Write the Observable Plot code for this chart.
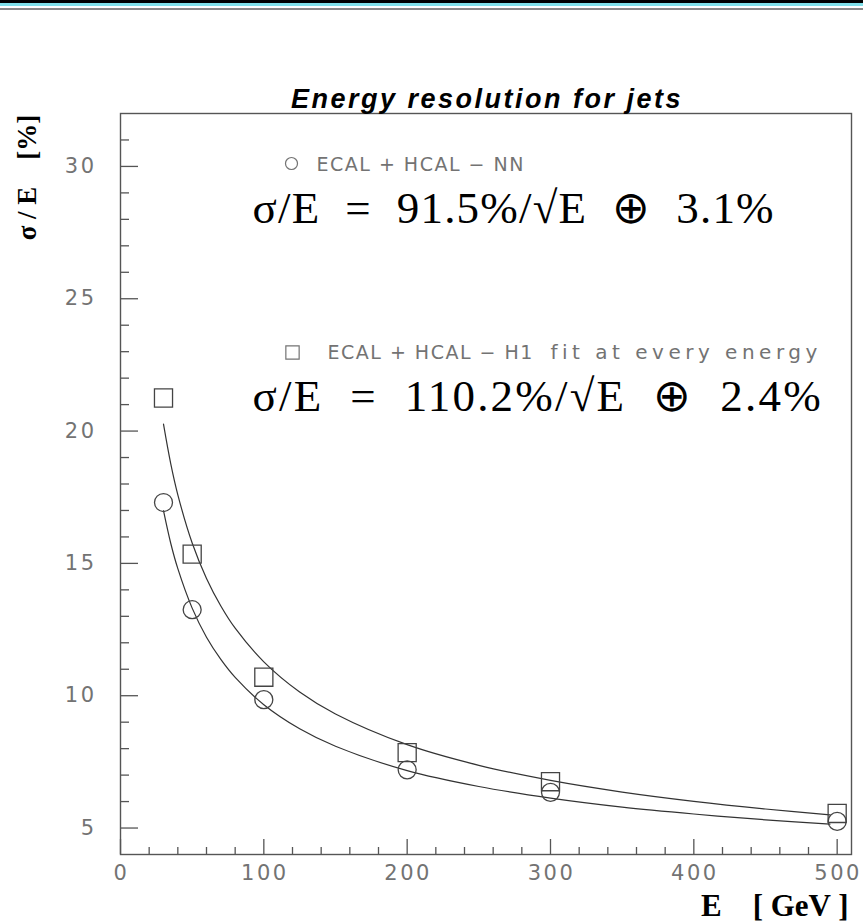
<!DOCTYPE html>
<html><head><meta charset="utf-8">
<script src="https://cdn.jsdelivr.net/npm/d3@7"></script>
<script src="https://cdn.jsdelivr.net/npm/@observablehq/plot@0.6"></script>
<style>
html,body{margin:0;padding:0;background:#fff;}
#wrap{position:relative;width:863px;height:923px;overflow:hidden;}
.bar{position:absolute;left:0;width:863px;}
#chart{position:absolute;left:0;top:0;}
svg text{white-space:pre;}
g[aria-label="y-axis tick label"] text, g[aria-label="x-axis tick label"] text{letter-spacing:2.5px;}
</style></head><body>
<div id="wrap">
<div id="chart"></div>
<div class="bar" style="top:0px;height:3px;background:#000"></div>
<div class="bar" style="top:3px;height:3px;background:#7fe0ea"></div>
<div class="bar" style="top:8px;height:1.5px;background:#888"></div>
</div>
<script>
// Measured points
const energies = [30, 50, 100, 200, 300, 500];
const resNN = [17.3, 13.25, 9.85, 7.2, 6.35, 5.25];
const resH1 = [21.25, 15.35, 10.7, 7.85, 6.75, 5.55];
// Fitted curves
const fitE  = [30, 35, 40, 50, 60, 70, 80, 100, 125, 150, 200, 250, 300, 350, 400, 450, 495];
const fitNN = [16.99, 15.77, 14.80, 13.31, 12.21, 11.37, 10.69, 9.66, 8.75, 8.09, 7.17, 6.57, 6.13, 5.79, 5.53, 5.31, 5.15];
const fitH1 = [20.26, 18.78, 17.59, 15.77, 14.43, 13.39, 12.55, 11.28, 10.14, 9.31, 8.15, 7.37, 6.80, 6.36, 6.01, 5.72, 5.50];
// Ticks
const yMajor = [5, 10, 15, 20, 25, 30];
const yMinor = d3.range(5, 32).filter(v => v % 5 !== 0);
const xMajor = [0, 100, 200, 300, 400, 500];
const xMinor = d3.range(20, 510, 20).filter(v => v % 100 !== 0);
// Texts
const title = "Energy resolution for jets";
const yLabel = "σ / E    [%]";
const xLabel = "E    [ GeV ]";
const legendNN = "ECAL + HCAL − NN";
const legendH1a = "ECAL + HCAL − H1";
const legendH1b = "fit at every energy";
const formulaNN = "σ/E  =  91.5%/√E  ⊕  3.1%";
const formulaH1 = "σ/E  =  110.2%/√E  ⊕  2.4%";

const pts = energies.map((e, i) => ({e, nn: resNN[i], h1: resH1[i]}));
const fit = fitE.map((e, i) => ({e, nn: fitNN[i], h1: fitH1[i]}));

const W = 863, H = 923, mL = 120, mR = 12, mT = 113, mB = 69;
const fw = W - mL - mR, fh = H - mT - mB;
const thin = "DejaVu Sans";
const serif = "Liberation Serif, Times New Roman, serif";
const gray = "#737373";
const tl = {frameAnchor: "top-left", textAnchor: "start", lineAnchor: "middle", text: d => d};

const plot = Plot.plot({
  width: W, height: H,
  marginLeft: mL, marginRight: mR, marginTop: mT, marginBottom: mB,
  style: {background: "transparent", color: gray, fontFamily: thin},
  x: {domain: [0, 510]},
  y: {domain: [4, 32]},
  marks: [
    Plot.frame({stroke: "#555", strokeWidth: 1.4}),
    Plot.tickY(yMajor, {y: d => d, insetRight: fw - 18, stroke: "#555", strokeWidth: 1.3}),
    Plot.tickY(yMinor, {y: d => d, insetRight: fw - 9, stroke: "#555", strokeWidth: 1.3}),
    Plot.tickX(xMajor, {x: d => d, insetTop: fh - 15, stroke: "#555", strokeWidth: 1.3}),
    Plot.tickX(xMinor, {x: d => d, insetTop: fh - 7, stroke: "#555", strokeWidth: 1.3}),
    Plot.axisY({ticks: yMajor, tickSize: 0, tickPadding: 24, fontSize: 21, fill: gray, label: null}),
    Plot.axisX({ticks: xMajor, tickSize: 0, tickPadding: 11, dx: 1, fontSize: 21, fill: gray, label: null}),
    Plot.line(fit, {x: "e", y: "nn", curve: "catmull-rom", stroke: "#333", strokeWidth: 1.2}),
    Plot.line(fit, {x: "e", y: "h1", curve: "catmull-rom", stroke: "#333", strokeWidth: 1.2}),
    Plot.dot(pts, {x: "e", y: "nn", symbol: "circle", r: 9, stroke: "#444", fill: "none", strokeWidth: 1.3}),
    Plot.dot(pts, {x: "e", y: "h1", symbol: "square", r: 10.2, stroke: "#444", fill: "none", strokeWidth: 1.3}),
    // title
    Plot.text([title], {frameAnchor: "top", lineAnchor: "middle", textAnchor: "middle", dx: 1, dy: -14, text: d => d,
      fontFamily: "Liberation Sans, Arial, sans-serif",
      fontWeight: "bold", fontStyle: "italic", fontSize: 27, fill: "#000"}),
    // axis labels
    Plot.text([yLabel], {frameAnchor: "top-left", textAnchor: "middle", lineAnchor: "middle", dx: -93, dy: 64, rotate: -90,
      text: d => d, fontFamily: serif, fontWeight: "bold", fontSize: 27, fill: "#000"}),
    Plot.text([xLabel], {frameAnchor: "bottom-right", textAnchor: "end", lineAnchor: "middle", dx: -3, dy: 52,
      text: d => d, fontFamily: serif, fontWeight: "bold", fontSize: 31, fill: "#000"}),
    // legend 1
    Plot.dot([0], {frameAnchor: "top-left", dx: 171, dy: 50, symbol: "circle", r: 6, stroke: gray, fill: "none", strokeWidth: 1.2}),
    Plot.text([legendNN], {...tl, dx: 196, dy: 51, fontFamily: thin, fontSize: 19, fill: gray}),
    Plot.text([formulaNN], {...tl, dx: 132, dy: 95, fontFamily: serif, fontSize: 45, fill: "#000"}),
    // legend 2
    Plot.dot([0], {frameAnchor: "top-left", dx: 172, dy: 239, symbol: "square", r: 7.5, stroke: gray, fill: "none", strokeWidth: 1.2}),
    Plot.text([legendH1a], {...tl, dx: 207, dy: 239, fontFamily: thin, fontSize: 19, fill: gray}),
    Plot.text([legendH1b], {...tl, dx: 430, dy: 239, fontFamily: thin, fontSize: 20, fill: gray}),
    Plot.text([formulaH1], {...tl, dx: 132, dy: 283, fontFamily: serif, fontSize: 45, fill: "#000"})
  ]
});

// letter spacing to mimic the wide plotting font
const spacing = new Map([
  [title, "2.5px"], [legendNN, "1.5px"], [legendH1a, "1.5px"], [legendH1b, "4.5px"],
  [formulaNN, "1.2px"], [formulaH1, "2.2px"]
]);
d3.select(plot).selectAll("text").each(function () {
  const s = spacing.get(this.textContent);
  if (s) this.style.letterSpacing = s;
});
document.getElementById("chart").appendChild(plot);
</script>
</body></html>
